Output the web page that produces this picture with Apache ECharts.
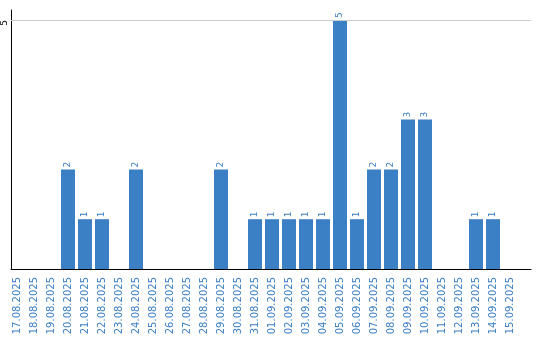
<!DOCTYPE html>
<html><head><meta charset="utf-8">
<script src="https://cdn.jsdelivr.net/npm/echarts@6/dist/echarts.min.js"></script>
<style>html,body{margin:0;padding:0;background:#fff}#c{width:540px;height:340px}</style>
</head><body><div id="c"></div>
<script>
const categories = ["17.08.2025","18.08.2025","19.08.2025","20.08.2025","21.08.2025","22.08.2025","23.08.2025","24.08.2025","25.08.2025","26.08.2025","27.08.2025","28.08.2025","29.08.2025","30.08.2025","31.08.2025","01.09.2025","02.09.2025","03.09.2025","04.09.2025","05.09.2025","06.09.2025","07.09.2025","08.09.2025","09.09.2025","10.09.2025","11.09.2025","12.09.2025","13.09.2025","14.09.2025","15.09.2025"];
const values = [0,0,0,2,1,1,0,2,0,0,0,0,2,0,1,1,1,1,1,5,1,2,2,3,3,0,0,1,1,0];
const yTicks = [5];

const blue = '#3b7fc4';
const font = 'DejaVu Sans';
const chart = echarts.init(document.getElementById('c'), null, {renderer:'canvas'});
chart.setOption({
  animation:false,
  grid:[
    {left:11, right:9, top:10, bottom:71},
    {left:8.5, width:510, top:10, bottom:71}
  ],
  xAxis:[
    {gridIndex:0, type:'value', min:0, max:1, axisLine:{show:true,onZero:false,lineStyle:{color:'#000',width:1}}, axisTick:{show:false}, axisLabel:{show:false}, splitLine:{show:false}},
    {gridIndex:1, type:'category', data:categories, boundaryGap:true,
     axisLine:{show:false}, axisTick:{show:false}, splitLine:{show:false},
     axisLabel:{interval:0, rotate:90, margin:8, color:blue, fontSize:10, fontFamily:font}}
  ],
  yAxis:[
    {gridIndex:0, type:'value', min:0, max:5.2, interval:5,
     axisLine:{show:true,lineStyle:{color:'#000',width:1}}, axisTick:{show:false}, splitLine:{show:false},
     axisLabel:{rotate:90, margin:6, align:'right', verticalAlign:'middle', color:'#000', fontSize:9, fontFamily:font,
       formatter:v=>yTicks.includes(v)?String(v):''}},
    {gridIndex:1, type:'value', min:0, max:5.2, show:false}
  ],
  series:[
    {type:'line', xAxisIndex:0, yAxisIndex:0, data:[], silent:true,
     markLine:{silent:true, symbol:['none','none'], label:{show:false},
       lineStyle:{color:'#cccccc', type:'solid', width:1},
       data: yTicks.map(t=>({yAxis:t}))}},
    {type:'bar', xAxisIndex:1, yAxisIndex:1, data:values, barWidth:14,
     itemStyle:{color:blue},
     label:{show:true, position:'top', rotate:90, align:'left', verticalAlign:'middle', distance:2,
       color:blue, fontSize:9, fontFamily:font, formatter:p=>p.value?String(p.value):''}}
  ]
});
</script></body></html>
